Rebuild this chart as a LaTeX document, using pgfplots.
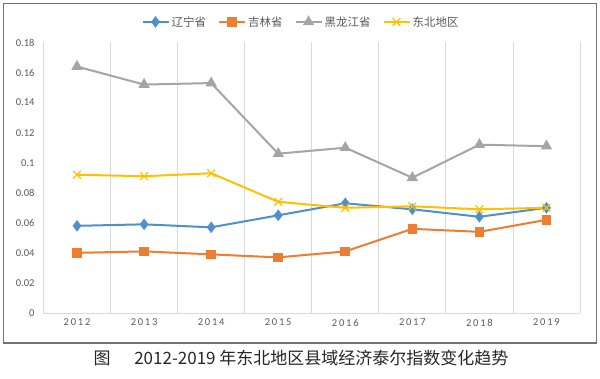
\documentclass[border=0pt]{standalone}
\usepackage{pgfplots}
\pgfplotsset{compat=1.18}
\usepackage{fontspec}
\setmainfont{Carlito}
\newfontfamily\cjk{Noto Sans CJK SC}
\definecolor{cblue}{HTML}{4F8FCE}
\definecolor{corange}{HTML}{ED7D31}
\definecolor{cgray}{HTML}{A5A5A5}
\definecolor{cyellow}{HTML}{FFC000}
\definecolor{tickgray}{HTML}{595959}
\definecolor{gridgray}{HTML}{D9D9D9}
\newcommand\yr[4]{#1\kern1.8pt#2\kern1.8pt#3\kern1.8pt#4}
\begin{document}
\begin{tikzpicture}
\path[use as bounding box] (0pt,0pt) rectangle (600pt,379pt);
\draw[color=black!55, line width=1.2pt] (3.5pt,36pt) rectangle (596.5pt,375.5pt);
\begin{axis}[
  at={(43.5pt,66pt)}, anchor=south west,
  width=536.5pt, height=270.5pt, scale only axis,
  xmin=-0.5, xmax=7.5, ymin=0, ymax=0.18,
  xtick={0,...,7},
  xticklabels={\yr2012,\yr2013,\yr2014,\yr2015,\yr2016,\yr2017,\yr2018,\yr2019},
  minor xtick={-0.5,0.5,...,7.5},
  ytick={0,0.02,...,0.181},
  /pgf/number format/fixed, /pgf/number format/precision=2,
  /pgf/number format/assume math mode=true,
  major tick length=0pt, minor tick length=0pt,
  minor x grid style={draw=gridgray, line width=0.8pt},
  xminorgrids=true,
  axis x line*=bottom, axis y line*=left,
  x axis line style={draw=gridgray, line width=0.8pt, -},
  y axis line style={draw=none},
  ticklabel style={font=\fontsize{10.5}{12}\selectfont, text=tickgray},
  yticklabel style={xshift=-5.5pt},
  xticklabel style={yshift=-2.5pt},
  legend columns=4,
  legend style={at={(0.48,1.076)}, anchor=center, draw=none, fill=none,
    font=\cjk\fontsize{11.5}{13}\selectfont, text=tickgray,
    /tikz/every even column/.append style={column sep=10pt}},
  legend image code/.code={\draw[mark repeat=2,mark phase=2] plot coordinates {(0pt,0pt)(13pt,0pt)(26pt,0pt)};},
  every axis plot/.append style={line width=2pt},
]
\addplot[color=cblue, mark=diamond*, mark size=4.2pt] coordinates {
(0,0.058) (1,0.059) (2,0.057) (3,0.065) (4,0.073) (5,0.069) (6,0.064) (7,0.070)};
\addlegendentry{辽宁省}
\addplot[color=corange, mark=square*, mark size=3.8pt] coordinates {
(0,0.040) (1,0.041) (2,0.039) (3,0.037) (4,0.041) (5,0.056) (6,0.054) (7,0.062)};
\addlegendentry{吉林省}
\addplot[color=cgray, mark=triangle*, mark size=4.6pt] coordinates {
(0,0.164) (1,0.152) (2,0.153) (3,0.106) (4,0.110) (5,0.090) (6,0.112) (7,0.111)};
\addlegendentry{黑龙江省}
\addplot[color=cyellow, mark=x, mark size=5.5pt, mark options={line width=1.2pt}] coordinates {
(0,0.092) (1,0.091) (2,0.093) (3,0.074) (4,0.070) (5,0.071) (6,0.069) (7,0.070)};
\addlegendentry{东北地区}
\end{axis}
\node[font=\cjk\fontsize{17}{19}\selectfont, text=black!85] at (301pt,21pt) {图\hspace{1.4em}2012-2019 年东北地区县域经济泰尔指数变化趋势};
\end{tikzpicture}
\end{document}
